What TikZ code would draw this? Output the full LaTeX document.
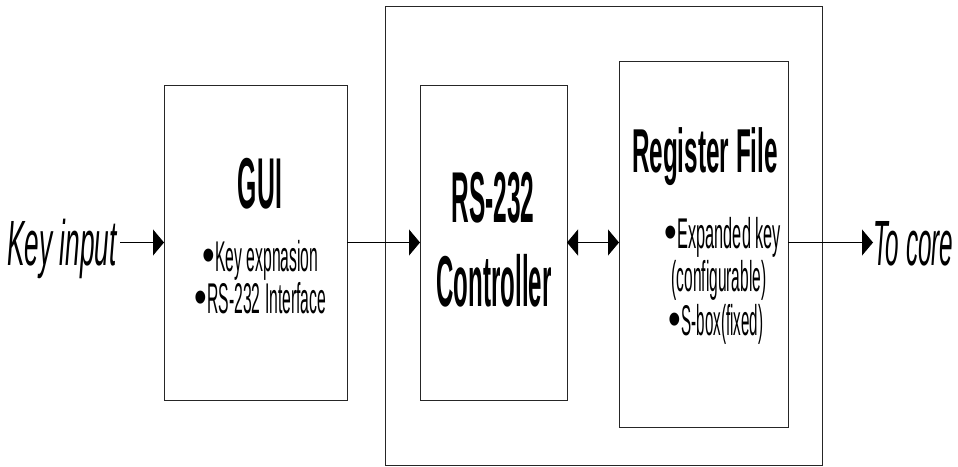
\documentclass[tikz,border=0pt]{standalone}
\usepackage{fontspec}
\usepackage{graphicx}
\setmainfont{Liberation Sans}
\usetikzlibrary{arrows.meta}
% horizontally condensed text
\newcommand{\narrow}[2]{\scalebox{#1}[1]{#2}}
% list bullet, kept round
\newcommand{\bul}{{\fontsize{48}{48}\selectfont\scalebox{0.75}[1]{•}}}
\begin{document}
\begin{tikzpicture}[x=1pt,y=-1pt,
  block/.style={draw=black!85,line width=0.9pt,inner sep=0pt,outer sep=0pt},
  title/.style={font=\bfseries\fontsize{72}{72}\selectfont,inner sep=0pt,anchor=base},
  subtitle/.style={font=\bfseries\fontsize{62}{62}\selectfont,inner sep=0pt,anchor=base},
  item/.style={font=\fontsize{43}{43}\selectfont,inner sep=0pt,anchor=base},
  ext/.style={font=\itshape\fontsize{64}{64}\selectfont,inner sep=0pt},
  flow/.style={line width=1.1pt,-{Triangle[length=11pt,width=26pt]}},
  bothflow/.style={line width=1.1pt,{Triangle[length=11pt,width=26pt]}-{Triangle[length=11pt,width=26pt]}},
]
\useasboundingbox (0,0) rectangle (958,466);

% blocks
\node[block,minimum width=437pt,minimum height=459pt] (outer) at (603.5,235.5) {};
\node[block,minimum width=183pt,minimum height=315pt] (gui) at (255.5,242.5) {};
\node[block,minimum width=147pt,minimum height=315pt] (ctrl) at (493.5,242.5) {};
\node[block,minimum width=169pt,minimum height=366pt] (reg) at (703.5,244) {};

% GUI block text
\node[title] (guit) at (260,208) {\narrow{0.344}{GUI}};
\node[item] (gui1) at (260.5,271.5) {\bul\narrow{0.366}{Key expnasion}};
\node[item] (gui2) at (260.5,313.5) {\bul\narrow{0.366}{RS-232 Interface}};

% controller text
\node[title] (ctrl1) at (493,222) {\narrow{0.34}{RS-232}};
\node[title] (ctrl2) at (494,306) {\narrow{0.334}{Controller}};

% register file text
\node[subtitle] (regt) at (705,172) {\narrow{0.392}{Register File}};
\node[item] (reg1) at (723,248) {\bul\narrow{0.38}{Expanded key}};
\node[item] (reg2) at (719,291) {\narrow{0.361}{(configurable)}};
\node[item] (reg3) at (716,335) {\bul\narrow{0.352}{S-box(fixed)}};

% external labels
\node[ext,anchor=base east] (keyin) at (117,265) {\narrow{0.41}{Key input}};
\node[ext,anchor=base west] (tocore) at (873,265) {\narrow{0.38}{To core}};

% connectors
\draw[flow] (keyin.east |- gui.west) ++(3,0) -- (gui.west);
\draw[flow] (gui.east) -- (ctrl.west);
\draw[bothflow] (ctrl.east) -- (ctrl.east -| reg.west);
\draw[flow] (reg.east |- ctrl.east) -- (tocore.west |- ctrl.east);
\end{tikzpicture}
\end{document}
